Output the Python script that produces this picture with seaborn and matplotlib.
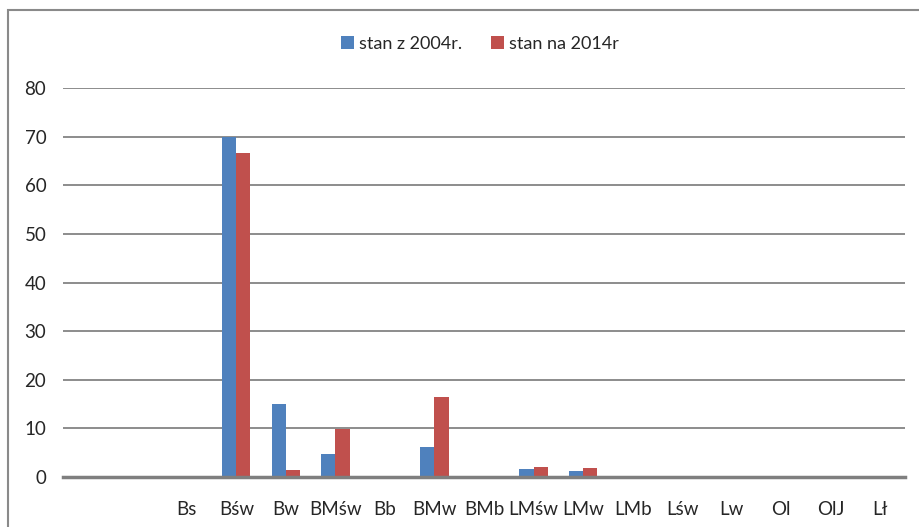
import seaborn as sns
import matplotlib.pyplot as plt
import pandas as pd
from matplotlib.patches import Rectangle

categories = ['', ' ', 'Bs', 'Bśw', 'Bw', 'BMśw', 'Bb', 'BMw', 'BMb',
              'LMśw', 'LMw', 'LMb', 'Lśw', 'Lw', 'Ol', 'OlJ', 'Lł']
stan_2004 = [0, 0, 0, 70.0, 15.0, 4.7, 0, 6.2, 0, 1.6, 1.2, 0, 0, 0, 0, 0, 0]
stan_2014 = [0, 0, 0, 66.7, 1.4, 9.9, 0, 16.5, 0.3, 2.1, 1.9, 0, 0, 0, 0, 0, 0.3]
series = ['stan z 2004r.', 'stan na 2014r']

df = pd.DataFrame({
    'kat': categories * 2,
    'val': stan_2004 + stan_2014,
    'seria': [series[0]] * len(categories) + [series[1]] * len(categories),
})

sns.set_style('white')
plt.rcParams['font.family'] = ['Lato', 'DejaVu Sans']

fig = plt.figure(figsize=(9.19, 5.27), dpi=100)
ax = fig.add_axes([63 / 919, 50 / 527, 842 / 919, 389 / 527])

sns.barplot(ax=ax, data=df, x='kat', y='val', hue='seria', order=categories,
            palette=['#4F81BD', '#C0504D'], width=0.57, saturation=1,
            linewidth=0, errorbar=None)

ax.set_ylim(0, 80)
ax.set_xlim(-0.5, len(categories) - 0.5)
ax.set_yticks(range(0, 81, 10))
ax.yaxis.grid(True, color='#8c8c8c', linewidth=1.4)
ax.set_axisbelow(True)
for s in ['top', 'right', 'left']:
    ax.spines[s].set_visible(False)
ax.spines['bottom'].set_color('#7f7f7f')
ax.spines['bottom'].set_linewidth(2.5)
ax.spines['bottom'].set_zorder(5)
ax.tick_params(axis='x', length=0, pad=17, labelsize=13.5, colors='#262626')
ax.tick_params(axis='y', length=0, pad=12, labelsize=13.5, colors='#262626')
ax.set_xlabel('')
ax.set_ylabel('')

ax.legend(loc='center', bbox_to_anchor=(480 / 919, 1 - 44 / 527),
          bbox_transform=fig.transFigure, ncol=2, frameon=False,
          handlelength=0.7, handleheight=0.7, handletextpad=0.3,
          columnspacing=1.6, fontsize=13)

fig.add_artist(Rectangle((8 / 919, -0.05), 1.0, 1 - 10 / 527 + 0.05,
                         transform=fig.transFigure, fill=False,
                         edgecolor='#8a8a8a', linewidth=1.5))

plt.savefig('out.png', dpi=100)
